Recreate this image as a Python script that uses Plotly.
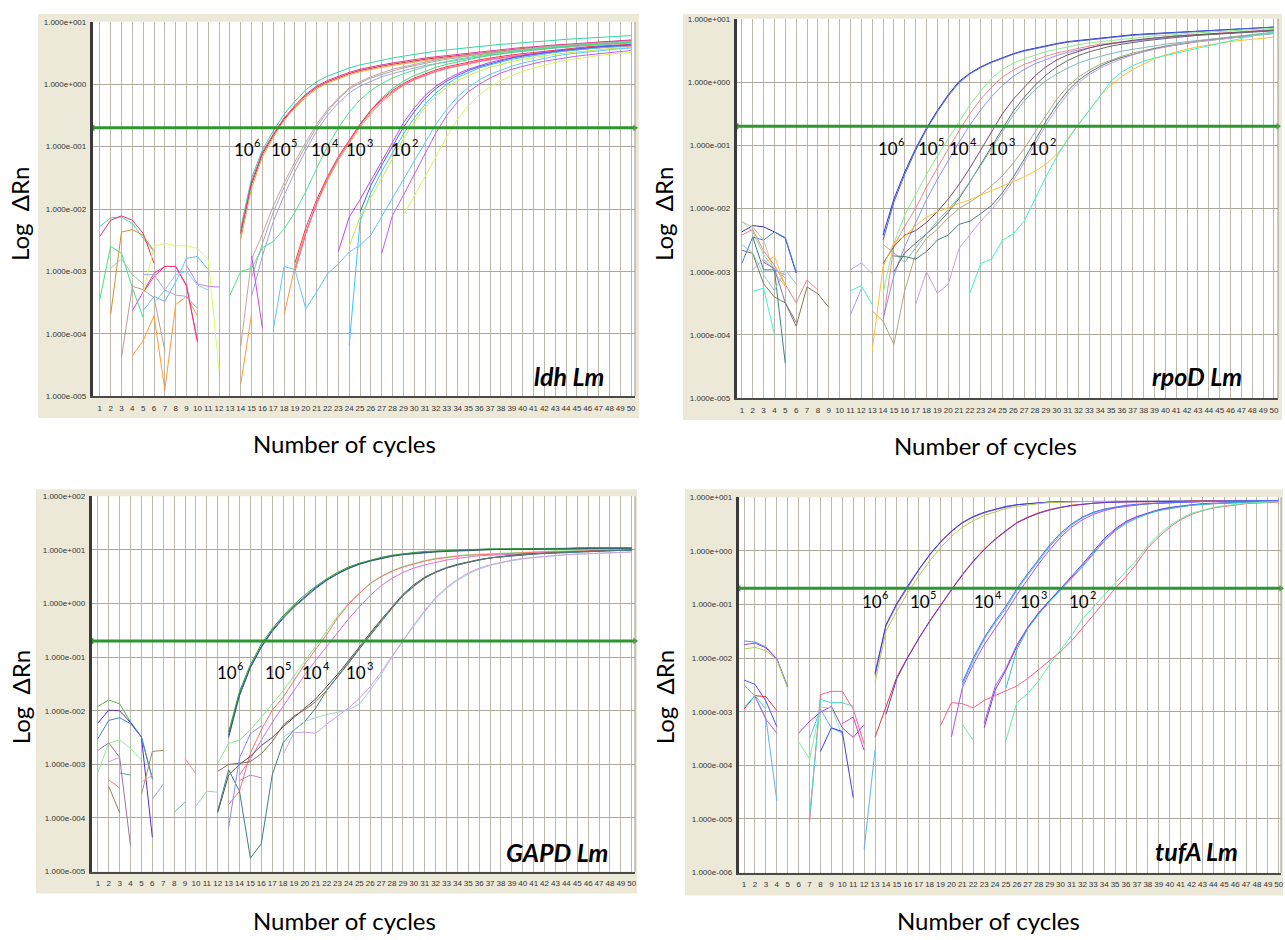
import plotly.graph_objects as go

W, H = 1285, 940
CYCLES = list(range(1, 51))
THRESHOLD_DRN = [0.2, 0.2, 0.2, 0.2]

GENES = ["ldh Lm", "rpoD Lm", "GAPD Lm", "tufA Lm"]
DIL_BASE = "10"
DIL_EXP = ["6", "5", "4", "3", "2"]
Y_TITLE = "Log \u00a0\u0394Rn"
X_TITLE = "Number of cycles"

YTICKS_LDH = ["1.000e-005", "1.000e-004", "1.000e-003", "1.000e-002", "1.000e-001", "1.000e+000", "1.000e+001"]
YTICKS_RPOD = ["1.000e-005", "1.000e-004", "1.000e-003", "1.000e-002", "1.000e-001", "1.000e+000", "1.000e+001"]
YTICKS_GAPD = ["1.000e-005", "1.000e-004", "1.000e-003", "1.000e-002", "1.000e-001", "1.000e+000", "1.000e+001", "1.000e+002"]
YTICKS_TUFA = ["1.000e-006", "1.000e-005", "1.000e-004", "1.000e-003", "1.000e-002", "1.000e-001", "1.000e+000", "1.000e+001"]

# ---------------- ldh Lm : first cycle of each trace and log10(dRn) per cycle ----------------
LDH_START = [14, 14, 14, 14, 15, 15, 14, 13, 19, 19, 18, 19, 23, 24, 24, 25, 27, 17, 29,
             1, 1, 2, 1, 2, 3, 4, 4, 5, 5, 5, 5, 9, 6, 15, 14]
LDH_LOG = [
    [-2.30,-1.50,-1.05,-0.75,-0.48,-0.27,-0.09,0.04,0.13,0.20,0.26,0.31,0.35,0.39,0.42,0.45,0.48,0.50,0.53,0.55,0.57,0.59,0.61,0.62,0.64,0.65,0.67,0.68,0.69,0.71,0.72,0.73,0.74,0.75,0.76,0.77,0.78],
    [-2.40,-1.60,-1.12,-0.82,-0.56,-0.36,-0.18,-0.05,0.04,0.11,0.17,0.22,0.26,0.29,0.32,0.35,0.37,0.40,0.42,0.44,0.46,0.48,0.50,0.52,0.54,0.56,0.57,0.59,0.60,0.62,0.63,0.64,0.66,0.67,0.68,0.69,0.70],
    [-2.48,-1.66,-1.16,-0.85,-0.58,-0.38,-0.21,-0.07,0.02,0.09,0.15,0.20,0.24,0.27,0.30,0.33,0.35,0.38,0.40,0.42,0.44,0.46,0.48,0.50,0.52,0.53,0.55,0.56,0.58,0.59,0.60,0.62,0.63,0.64,0.65,0.66,0.67],
    [-2.36,-1.56,-1.09,-0.80,-0.54,-0.34,-0.16,-0.03,0.06,0.13,0.19,0.24,0.28,0.31,0.34,0.37,0.40,0.42,0.44,0.46,0.48,0.50,0.52,0.54,0.56,0.57,0.59,0.60,0.62,0.63,0.64,0.65,0.67,0.68,0.69,0.70,0.71],
    [-3.10,-2.55,-2.05,-1.65,-1.30,-0.98,-0.68,-0.44,-0.24,-0.08,0.02,0.10,0.16,0.21,0.26,0.30,0.34,0.37,0.40,0.43,0.46,0.48,0.50,0.52,0.54,0.56,0.58,0.59,0.61,0.62,0.63,0.65,0.66,0.67,0.68,0.69],
    [-3.40,-2.75,-2.20,-1.78,-1.40,-1.06,-0.75,-0.50,-0.30,-0.14,-0.03,0.05,0.12,0.17,0.22,0.26,0.30,0.33,0.36,0.39,0.42,0.44,0.47,0.49,0.51,0.53,0.55,0.56,0.58,0.59,0.61,0.62,0.63,0.64,0.65,0.66],
    [-4.20,-2.80,-2.40,-1.95,-1.58,-1.24,-0.93,-0.64,-0.41,-0.22,-0.06,0.04,0.12,0.18,0.24,0.28,0.32,0.36,0.39,0.42,0.45,0.47,0.49,0.51,0.53,0.55,0.57,0.58,0.60,0.61,0.63,0.64,0.65,0.66,0.67,0.68,0.69],
    [-3.38,-3.00,-2.95,-2.62,-2.52,-2.32,-2.05,-1.72,-1.35,-1.00,-0.70,-0.45,-0.25,-0.10,0.01,0.10,0.17,0.23,0.28,0.33,0.37,0.40,0.43,0.46,0.49,0.51,0.53,0.55,0.57,0.58,0.60,0.61,0.62,0.64,0.65,0.66,0.67,0.68],
    [-2.95,-2.38,-1.92,-1.52,-1.19,-0.91,-0.64,-0.41,-0.22,-0.07,0.05,0.14,0.21,0.27,0.32,0.36,0.40,0.43,0.46,0.49,0.51,0.53,0.55,0.57,0.59,0.60,0.62,0.63,0.64,0.65,0.66,0.67],
    [-2.86,-2.30,-1.85,-1.48,-1.16,-0.90,-0.64,-0.42,-0.24,-0.10,0.01,0.10,0.17,0.23,0.28,0.32,0.36,0.39,0.42,0.45,0.47,0.49,0.51,0.53,0.55,0.57,0.58,0.60,0.61,0.62,0.63,0.64],
    [-3.69,-2.92,-2.37,-1.92,-1.54,-1.22,-0.95,-0.69,-0.47,-0.29,-0.14,-0.02,0.07,0.14,0.20,0.25,0.29,0.33,0.36,0.39,0.42,0.44,0.46,0.48,0.50,0.52,0.54,0.55,0.57,0.58,0.59,0.60,0.61],
    [-3.00,-2.40,-1.90,-1.50,-1.18,-0.92,-0.66,-0.44,-0.26,-0.12,-0.01,0.08,0.15,0.21,0.26,0.30,0.34,0.37,0.40,0.43,0.45,0.47,0.49,0.51,0.53,0.55,0.56,0.58,0.59,0.60,0.61,0.62],
    [-2.68,-2.13,-1.85,-1.55,-1.25,-0.93,-0.62,-0.38,-0.18,-0.03,0.08,0.17,0.24,0.30,0.35,0.39,0.43,0.46,0.49,0.51,0.53,0.55,0.57,0.58,0.60,0.61,0.62,0.63],
    [-4.19,-2.20,-1.74,-1.40,-1.10,-0.80,-0.54,-0.32,-0.14,0.00,0.11,0.19,0.26,0.31,0.36,0.40,0.43,0.46,0.49,0.51,0.53,0.55,0.57,0.58,0.60,0.61,0.62],
    [-2.60,-2.13,-1.82,-1.50,-1.18,-0.88,-0.60,-0.37,-0.19,-0.05,0.06,0.14,0.21,0.27,0.32,0.36,0.40,0.43,0.46,0.48,0.50,0.52,0.54,0.55,0.57,0.58,0.59],
    [-2.05,-1.62,-1.30,-0.99,-0.69,-0.44,-0.23,-0.07,0.05,0.14,0.22,0.28,0.33,0.38,0.42,0.45,0.48,0.51,0.53,0.55,0.57,0.58,0.60,0.61,0.62,0.63],
    [-2.71,-2.10,-1.78,-1.45,-1.12,-0.78,-0.50,-0.28,-0.12,0.00,0.10,0.18,0.24,0.29,0.33,0.37,0.40,0.43,0.45,0.47,0.49,0.51,0.52,0.54],
    [-3.93,-2.92,-2.97,-3.60,-3.33,-3.04,-2.88,-2.69,-2.58,-2.42,-2.12,-1.82,-1.52,-1.22,-0.93,-0.64,-0.40,-0.20,-0.05,0.07,0.16,0.23,0.29,0.34,0.38,0.42,0.45,0.48,0.50,0.52,0.54,0.55,0.57,0.58],
    [-2.10,-1.80,-1.48,-1.16,-0.84,-0.56,-0.34,-0.17,-0.04,0.06,0.14,0.21,0.26,0.31,0.35,0.38,0.41,0.44,0.46,0.48,0.50,0.51],
    [-2.28,-2.14,-2.13,-2.23,-2.47,-2.68],
    [-2.44,-2.18,-2.11,-2.18,-2.39,-2.87],
    [-3.69,-2.37,-2.33,-2.42,-2.68],
    [-3.45,-2.60,-2.71,-3.26,-3.74],
    [-2.95,-2.80,-3.05,-3.20],
    [-4.38,-3.24,-3.29,-3.42,-4.27],
    [-4.35,-4.11,-3.71,-4.90,-3.53,-3.40,-3.71],
    [-3.63,-3.34,-3.03,-2.92,-2.92,-3.24,-4.11],
    [-3.34,-3.08,-2.92,-2.92,-3.22,-4.13],
    [-3.63,-3.40,-3.48,-3.17,-2.79,-2.76,-2.97],
    [-3.36,-2.60,-2.55,-2.59,-2.59,-2.63,-2.81,-4.59],
    [-3.05,-3.05,-3.30,-3.38,-3.40,-3.60],
    [-2.90,-3.20,-3.24,-3.25],
    [-3.50,-3.30,-3.05,-3.00,-3.22,-3.30],
    [-2.75,-3.91],
    [-4.80,-3.68],
]
LDH_COLOR = ["#2fd9a4", "#e02a2a", "#f0a23c", "#e0389c", "#a8a8a8", "#a4a0dc", "#c4a4a4", "#4ee28e",
             "#3ce07a", "#ff2e52", "#ff9640", "#ff5aa8", "#c040ff", "#38c4f8", "#c8ee40", "#4a5cf0",
             "#c05cff", "#5cc8ff", "#d4f464",
             "#40e0a0", "#e03080", "#d09030", "#40e080", "#a8c8a0", "#c09898", "#ff9933", "#e040e0",
             "#ff3366", "#60c0ff", "#d0ff60", "#b0a0e0", "#c080ff", "#80d0f8", "#d040f0", "#ff9a40"]

# ---------------- rpoD Lm ----------------
RPOD_START = [14, 14, 14, 14, 14, 14, 15, 14, 13, 15, 17, 13, 22,
              1, 1, 1, 1, 1, 1, 2, 1, 2, 2, 3, 3, 11, 11, 11]
RPOD_LOG = [
    [-2.42,-1.85,-1.42,-1.05,-0.73,-0.45,-0.20,0.01,0.14,0.24,0.32,0.39,0.45,0.50,0.54,0.58,0.61,0.64,0.66,0.68,0.70,0.72,0.73,0.75,0.76,0.77,0.78,0.79,0.80,0.81,0.82,0.83,0.84,0.85,0.86,0.86,0.87],
    [-2.50,-1.90,-1.46,-1.08,-0.75,-0.47,-0.22,-0.01,0.13,0.23,0.31,0.38,0.44,0.49,0.53,0.57,0.60,0.63,0.65,0.67,0.69,0.71,0.72,0.74,0.75,0.76,0.77,0.78,0.79,0.80,0.81,0.82,0.83,0.84,0.85,0.86,0.87],
    [-3.34,-2.55,-2.10,-1.78,-1.46,-1.17,-0.90,-0.62,-0.36,-0.14,0.06,0.20,0.30,0.37,0.43,0.48,0.52,0.56,0.59,0.62,0.64,0.66,0.68,0.70,0.72,0.73,0.74,0.76,0.77,0.78,0.79,0.80,0.81,0.82,0.83,0.84,0.85],
    [-3.80,-2.59,-2.28,-2.00,-1.66,-1.35,-1.06,-0.77,-0.50,-0.27,-0.08,0.08,0.19,0.28,0.35,0.41,0.46,0.50,0.54,0.57,0.60,0.62,0.64,0.66,0.68,0.70,0.71,0.73,0.74,0.75,0.76,0.78,0.79,0.80,0.81,0.82,0.83],
    [-3.75,-3.06,-2.60,-2.22,-1.86,-1.54,-1.24,-0.95,-0.68,-0.44,-0.23,-0.05,0.09,0.20,0.29,0.36,0.42,0.47,0.51,0.55,0.58,0.61,0.63,0.65,0.67,0.69,0.70,0.72,0.73,0.74,0.76,0.77,0.78,0.79,0.80,0.81,0.82],
    [-2.87,-2.60,-2.42,-2.35,-2.22,-2.05,-1.85,-1.62,-1.36,-1.08,-0.78,-0.50,-0.27,-0.08,0.10,0.24,0.35,0.43,0.49,0.54,0.58,0.61,0.64,0.66,0.68,0.70,0.71,0.73,0.74,0.75,0.76,0.77,0.78,0.79,0.80,0.81,0.82],
    [-3.00,-2.70,-2.55,-2.40,-2.25,-2.06,-1.84,-1.58,-1.30,-1.01,-0.72,-0.46,-0.24,-0.05,0.11,0.24,0.34,0.42,0.48,0.53,0.57,0.60,0.63,0.65,0.67,0.69,0.71,0.72,0.74,0.75,0.76,0.77,0.78,0.79,0.80,0.81],
    [-2.57,-2.70,-2.85,-2.62,-2.40,-2.20,-2.02,-1.82,-1.58,-1.32,-1.05,-0.78,-0.52,-0.30,-0.12,0.02,0.13,0.22,0.30,0.36,0.41,0.45,0.49,0.52,0.55,0.58,0.60,0.62,0.64,0.66,0.68,0.70,0.72,0.74,0.76,0.78,0.79],
    [-3.62,-3.78,-4.15,-3.30,-2.72,-2.47,-2.33,-2.15,-2.00,-1.90,-1.78,-1.64,-1.48,-1.28,-1.05,-0.80,-0.53,-0.27,-0.07,0.08,0.19,0.28,0.35,0.41,0.46,0.50,0.54,0.57,0.60,0.63,0.65,0.67,0.69,0.71,0.73,0.75,0.76,0.78],
    [-2.75,-2.76,-2.80,-2.68,-2.50,-2.42,-2.25,-2.20,-2.08,-1.95,-1.75,-1.50,-1.22,-0.92,-0.62,-0.36,-0.14,0.03,0.15,0.25,0.33,0.39,0.44,0.49,0.53,0.56,0.59,0.62,0.64,0.66,0.68,0.70,0.72,0.74,0.76,0.77],
    [-3.52,-3.00,-3.34,-3.20,-2.63,-2.42,-2.20,-2.02,-1.80,-1.56,-1.28,-0.98,-0.68,-0.42,-0.19,-0.01,0.12,0.22,0.30,0.37,0.43,0.48,0.52,0.56,0.59,0.62,0.64,0.66,0.68,0.70,0.72,0.74,0.75,0.77],
    [-4.25,-2.92,-2.54,-2.44,-2.27,-2.14,-2.05,-1.98,-1.92,-1.86,-1.79,-1.72,-1.65,-1.58,-1.50,-1.41,-1.30,-1.14,-0.92,-0.67,-0.44,-0.22,-0.05,0.09,0.20,0.29,0.37,0.43,0.48,0.52,0.56,0.59,0.62,0.64,0.66,0.68,0.70,0.71],
    [-3.34,-2.87,-2.80,-2.50,-2.40,-2.20,-1.85,-1.50,-1.18,-0.90,-0.67,-0.45,-0.22,0.02,0.16,0.26,0.33,0.38,0.42,0.46,0.50,0.54,0.58,0.62,0.66,0.70,0.73,0.76,0.79],
    [-2.37,-2.27,-2.29,-2.37,-2.47,-3.02],
    [-2.87,-2.45,-2.50,-2.37,-2.46,-3.00],
    [-2.21,-2.29,-2.50,-3.02,-3.23],
    [-2.20,-2.37,-2.73,-2.95,-3.10],
    [-2.42,-2.33,-2.67,-2.90,-3.20,-3.49,-3.13,-3.29],
    [-2.66,-2.71,-3.19,-3.40,-3.49,-3.86,-3.24,-3.35,-3.56],
    [-2.45,-2.97,-2.97,-4.45],
    [-2.57,-2.70,-3.05,-3.30,-2.97,-3.19],
    [-3.31,-3.26,-3.99],
    [-2.97,-2.80,-2.97,-3.05],
    [-2.87,-2.75,-3.23],
    [-2.85,-2.95,-3.49,-3.80],
    [-2.97,-2.86,-3.03],
    [-3.30,-3.22,-3.52],
    [-3.68,-3.27],
]
RPOD_COLOR = ["#2838c8", "#5060e0", "#88ee88", "#f08888", "#9090f8", "#7a4a6a", "#686868", "#7cb8b8",
              "#b0a880", "#4c7c7c", "#c8a0d8", "#ffc030", "#40f0c8",
              "#3030c0", "#4080e0", "#c8c090", "#90e090", "#f08080", "#807850", "#408080", "#90d0d0",
              "#40f0d0", "#a0a0ff", "#ffc040", "#9070a0", "#c0a0e0", "#40f0d0", "#a0a0ff"]

# ---------------- GAPD Lm ----------------
GAPD_START = [13, 13, 13, 12, 13, 14, 12, 12, 12, 18, 18, 13, 14,
              1, 1, 1, 1, 1, 2, 2, 3, 2, 5, 5, 6, 8, 9, 10]
GAPD_LOG = [
    [-2.46,-1.69,-1.18,-0.80,-0.50,-0.26,-0.05,0.13,0.30,0.44,0.56,0.66,0.74,0.80,0.85,0.89,0.92,0.94,0.96,0.97,0.98,0.99,1.00,1.00,1.01,1.01,1.01,1.02,1.02,1.02,1.02,1.02,1.03,1.03,1.03,1.03,1.03,1.03],
    [-2.40,-1.64,-1.14,-0.76,-0.47,-0.23,-0.02,0.16,0.32,0.46,0.58,0.68,0.75,0.81,0.86,0.90,0.93,0.95,0.97,0.98,0.99,1.00,1.01,1.01,1.02,1.02,1.02,1.03,1.03,1.03,1.03,1.03,1.04,1.04,1.04,1.04,1.04,1.04],
    [-2.50,-1.72,-1.20,-0.82,-0.52,-0.28,-0.07,0.11,0.28,0.43,0.55,0.65,0.73,0.79,0.84,0.88,0.91,0.93,0.95,0.96,0.97,0.98,0.99,1.00,1.00,1.01,1.01,1.01,1.02,1.02,1.02,1.02,1.02,1.03,1.03,1.03,1.03,1.03],
    [-2.98,-2.61,-2.55,-2.36,-2.12,-1.87,-1.63,-1.35,-1.07,-0.79,-0.51,-0.24,0.00,0.19,0.38,0.51,0.61,0.69,0.75,0.80,0.84,0.87,0.89,0.91,0.92,0.93,0.94,0.95,0.96,0.97,0.97,0.98,0.98,0.99,0.99,1.00,1.00,1.00,1.01],
    [-3.75,-3.50,-2.79,-2.36,-1.99,-1.75,-1.44,-1.13,-0.85,-0.58,-0.27,-0.02,0.19,0.37,0.50,0.60,0.68,0.74,0.79,0.83,0.86,0.88,0.90,0.91,0.92,0.93,0.94,0.95,0.96,0.96,0.97,0.97,0.98,0.98,0.99,0.99,1.00,1.00],
    [-3.20,-2.90,-2.55,-2.22,-1.92,-1.62,-1.33,-1.06,-0.80,-0.54,-0.29,-0.06,0.15,0.33,0.47,0.58,0.66,0.72,0.77,0.81,0.84,0.87,0.89,0.90,0.91,0.92,0.93,0.94,0.95,0.96,0.96,0.97,0.97,0.98,0.98,0.99,0.99],
    [-3.90,-3.20,-3.00,-2.85,-2.65,-2.50,-2.30,-2.12,-1.95,-1.78,-1.56,-1.32,-1.07,-0.80,-0.55,-0.30,-0.06,0.17,0.35,0.49,0.59,0.67,0.73,0.78,0.82,0.85,0.88,0.90,0.92,0.93,0.94,0.95,0.96,0.97,0.98,0.98,0.99,0.99,1.00],
    [-3.13,-3.00,-2.98,-2.95,-2.80,-2.58,-2.27,-2.10,-1.98,-1.83,-1.62,-1.38,-1.12,-0.85,-0.59,-0.33,-0.09,0.14,0.32,0.47,0.58,0.66,0.72,0.77,0.81,0.85,0.87,0.89,0.91,0.93,0.94,0.95,0.96,0.97,0.97,0.98,0.99,0.99,1.00],
    [-3.87,-3.10,-3.50,-4.75,-4.48,-3.20,-2.60,-2.36,-2.20,-1.95,-1.62,-1.36,-1.10,-0.83,-0.57,-0.32,-0.08,0.15,0.33,0.48,0.58,0.66,0.72,0.77,0.81,0.85,0.87,0.89,0.91,0.92,0.93,0.94,0.95,0.96,0.97,0.98,0.98,0.99,0.99],
    [-2.50,-2.35,-2.20,-2.13,-2.07,-2.03,-1.98,-1.88,-1.62,-1.33,-1.00,-0.70,-0.42,-0.15,0.09,0.28,0.43,0.55,0.64,0.71,0.76,0.80,0.83,0.86,0.88,0.90,0.91,0.92,0.93,0.94,0.95,0.95,0.96],
    [-2.82,-2.41,-2.40,-2.42,-2.25,-2.10,-1.95,-1.77,-1.55,-1.28,-0.98,-0.68,-0.40,-0.13,0.11,0.30,0.45,0.57,0.66,0.72,0.77,0.81,0.84,0.86,0.88,0.90,0.91,0.92,0.93,0.94,0.95,0.95,0.96],
    [-4.18,-2.88,-2.43,-2.28],
    [-3.30,-3.20,-3.25],
    [-1.92,-1.80,-1.87,-2.21,-2.49,-3.26],
    [-2.23,-1.99,-2.00,-2.22,-2.49,-4.36],
    [-2.52,-2.18,-2.13,-2.24,-2.49,-3.27],
    [-3.15,-2.61,-2.54,-2.70,-2.92],
    [-2.74,-2.60,-2.87,-4.52],
    [-3.41,-3.90],
    [-3.29,-3.44],
    [-3.16,-3.20],
    [-2.95,-2.87],
    [-3.56,-2.76,-2.74],
    [-3.33,-3.20],
    [-3.65,-3.37],
    [-3.90,-3.70],
    [-2.89,-3.18],
    [-3.78,-3.50,-3.52],
]
GAPD_COLOR = ["#2850d0", "#30a030", "#306060", "#80ee80", "#ff6f6f", "#e070d0", "#505050", "#8a6a50",
              "#3f8080", "#a0d4d4", "#d0a0e4", "#8888ff", "#c080c0",
              "#50b050", "#5030d0", "#4080e0", "#90f090", "#a070a0", "#908060", "#f08080", "#60a0a0",
              "#e0a0e0", "#a09060", "#ffa0a0", "#a0a0ff", "#80b0b0", "#f09090", "#a0d0d0"]

# ---------------- tufA Lm ----------------
TUFA_START = [13, 13, 13, 13, 14, 21, 20, 21, 23, 23, 25, 19, 25,
              1, 1, 1, 1, 1, 1, 2, 1, 7, 7, 6, 10, 6, 7, 8, 12, 21]
TUFA_LOG = [
    [-2.32,-1.40,-1.00,-0.67,-0.36,-0.08,0.16,0.36,0.52,0.63,0.71,0.77,0.82,0.86,0.88,0.90,0.91,0.91,0.92,0.92,0.92,0.92,0.92,0.93,0.93,0.93,0.93,0.93,0.93,0.93,0.93,0.93,0.93,0.93,0.93,0.93,0.93,0.93],
    [-2.28,-1.38,-0.98,-0.65,-0.35,-0.07,0.17,0.37,0.53,0.64,0.72,0.78,0.83,0.86,0.88,0.90,0.91,0.92,0.92,0.92,0.92,0.92,0.93,0.93,0.93,0.93,0.93,0.93,0.93,0.93,0.93,0.93,0.93,0.94,0.94,0.94,0.94,0.94],
    [-2.45,-1.50,-1.12,-0.78,-0.47,-0.19,0.06,0.27,0.44,0.56,0.66,0.73,0.79,0.83,0.86,0.88,0.90,0.91,0.91,0.92,0.92,0.92,0.92,0.92,0.92,0.93,0.93,0.93,0.93,0.93,0.93,0.93,0.93,0.93,0.93,0.93,0.93,0.93],
    [-3.47,-2.90,-2.35,-1.98,-1.63,-1.31,-1.01,-0.72,-0.44,-0.19,0.03,0.22,0.38,0.53,0.63,0.71,0.77,0.81,0.85,0.87,0.89,0.90,0.91,0.91,0.92,0.92,0.92,0.92,0.92,0.93,0.93,0.93,0.93,0.93,0.93,0.93,0.93,0.93],
    [-3.05,-2.38,-1.99,-1.64,-1.32,-1.02,-0.73,-0.45,-0.20,0.02,0.21,0.37,0.52,0.62,0.70,0.76,0.81,0.84,0.87,0.89,0.90,0.91,0.91,0.92,0.92,0.92,0.92,0.92,0.93,0.93,0.93,0.93,0.93,0.93,0.93,0.93,0.93],
    [-2.50,-2.04,-1.65,-1.34,-1.07,-0.73,-0.45,-0.18,0.08,0.30,0.48,0.62,0.71,0.77,0.81,0.84,0.86,0.88,0.89,0.90,0.91,0.91,0.92,0.92,0.92,0.93,0.93,0.93,0.93,0.93],
    [-3.47,-2.55,-2.12,-1.75,-1.45,-1.15,-0.82,-0.52,-0.24,0.02,0.25,0.44,0.58,0.68,0.75,0.80,0.83,0.86,0.88,0.89,0.90,0.91,0.91,0.92,0.92,0.92,0.93,0.93,0.93,0.93,0.93],
    [-2.45,-2.00,-1.62,-1.31,-1.03,-0.70,-0.42,-0.15,0.11,0.33,0.50,0.63,0.72,0.78,0.82,0.85,0.87,0.88,0.89,0.90,0.91,0.92,0.92,0.92,0.93,0.93,0.93,0.93,0.94,0.94],
    [-3.22,-2.53,-2.19,-1.75,-1.42,-1.15,-0.92,-0.72,-0.50,-0.28,-0.04,0.20,0.39,0.53,0.63,0.70,0.76,0.80,0.83,0.85,0.87,0.88,0.89,0.90,0.91,0.91,0.92,0.92],
    [-3.30,-2.60,-2.22,-1.78,-1.44,-1.16,-0.93,-0.71,-0.48,-0.25,-0.01,0.23,0.41,0.55,0.64,0.71,0.77,0.81,0.84,0.86,0.88,0.89,0.90,0.91,0.91,0.92,0.92,0.92],
    [-2.56,-1.84,-1.45,-1.18,-0.95,-0.74,-0.52,-0.30,-0.06,0.18,0.37,0.51,0.61,0.69,0.75,0.79,0.82,0.85,0.87,0.88,0.89,0.90,0.91,0.91,0.92,0.92],
    [-3.26,-2.83,-2.85,-2.93,-2.79,-2.70,-2.62,-2.52,-2.38,-2.21,-2.05,-1.88,-1.68,-1.45,-1.20,-0.95,-0.70,-0.48,-0.23,0.06,0.26,0.44,0.58,0.68,0.75,0.80,0.83,0.86,0.88,0.89,0.90,0.91],
    [-3.53,-2.83,-2.66,-2.42,-2.12,-1.85,-1.58,-1.27,-1.05,-0.82,-0.60,-0.40,-0.16,0.10,0.30,0.47,0.60,0.70,0.76,0.81,0.84,0.87,0.89,0.90,0.91,0.92],
    [-1.68,-1.70,-1.79,-2.01,-2.53],
    [-1.75,-1.72,-1.81,-2.02,-2.55],
    [-1.83,-1.80,-1.86,-2.03,-2.56],
    [-2.41,-2.49,-2.80,-3.28],
    [-2.50,-2.71,-3.12,-4.66],
    [-2.95,-2.70,-2.72,-2.98],
    [-2.72,-3.14,-3.40],
    [-2.92,-2.70,-2.95],
    [-5.05,-2.68,-2.62,-2.62,-2.95,-3.60],
    [-4.95,-2.77,-2.83,-2.83,-2.90],
    [-3.40,-3.18,-3.01,-2.90,-3.30,-3.48,-3.24],
    [-3.22,-3.10,-3.72],
    [-3.56,-3.88,-2.92,-2.92,-3.45],
    [-3.50,-2.95,-3.30,-3.40],
    [-3.74,-3.30,-3.37,-4.60],
    [-5.57,-3.71],
    [-3.24,-3.53],
]
TUFA_COLOR = ["#a040f0", "#3c3cdc", "#a8d048", "#f03030", "#5a3ae6", "#40b0ff", "#b050f0", "#5070ff",
              "#c050f0", "#6a48e8", "#30c0c8", "#ff6088", "#60f0a0",
              "#40a0ff", "#a040f0", "#a8d048", "#5050ff", "#60b0ff", "#f03030", "#c060e0", "#40d0d0",
              "#ff6090", "#40e0c0", "#b040e0", "#e040c0", "#80f0a0", "#60b0ff", "#4040e0", "#60b0ff", "#60f0a0"]

# ---------------- layout (pixel geometry) ----------------
PANEL_LAYOUT = [
    dict(plot=(93, 18, 636, 396), frame=(38, 10, 640, 418), xr=(0.36, 50.36), yr=(-5, 1),
         ytitle=(20, 212), xtitle=(345, 444), gene=(570, 376),
         dil=[(251, 147), (288, 147), (329, 147), (364, 147), (409, 147)]),
    dict(plot=(738, 15, 1280, 398), frame=(684, 10, 1284, 420), xr=(0.54, 50.37), yr=(-5, 1),
         ytitle=(665, 212), xtitle=(987, 446), gene=(1199, 376),
         dil=[(896, 146), (936, 146), (968, 146), (1007, 146), (1048, 146)]),
    dict(plot=(92, 497, 636, 876), frame=(36, 490, 638, 898), xr=(0.45, 50.3), yr=(-5, 2),
         ytitle=(20, 700), xtitle=(345, 925), gene=(558, 856),
         dil=[(234, 675), (282, 675), (320, 675), (364, 675)]),
    dict(plot=(740, 498, 1283, 877), frame=(686, 490, 1285, 900), xr=(0.52, 50.2), yr=(-6, 1),
         ytitle=(665, 700), xtitle=(990, 925), gene=(1198, 855),
         dil=[(880, 603), (928, 603), (993, 603), (1039, 603), (1088, 603)]),
]

DATA = [
    (LDH_START, LDH_LOG, LDH_COLOR, YTICKS_LDH),
    (RPOD_START, RPOD_LOG, RPOD_COLOR, YTICKS_RPOD),
    (GAPD_START, GAPD_LOG, GAPD_COLOR, YTICKS_GAPD),
    (TUFA_START, TUFA_LOG, TUFA_COLOR, YTICKS_TUFA),
]

TICK_FONT = "Liberation Sans, Arial, sans-serif"


def px(x):
    return x / W


def py(y):
    return 1 - y / H


fig = go.Figure()
shapes = []
annotations = []
layout_axes = {}

for i, (pl, (starts, logs, colors, yticks)) in enumerate(zip(PANEL_LAYOUT, DATA)):
    n = "" if i == 0 else str(i + 1)
    xa, ya = "x" + n, "y" + n
    x0, y0, x1, y1 = pl["plot"]
    fx0, fy0, fx1, fy1 = pl["frame"]
    shapes.append(dict(type="rect", xref="paper", yref="paper", x0=px(fx0), x1=px(fx1),
                       y0=py(fy1), y1=py(fy0), fillcolor="#ECE9D8", line=dict(width=0), layer="below"))
    shapes.append(dict(type="rect", xref="paper", yref="paper", x0=px(x0), x1=px(x1),
                       y0=py(y1), y1=py(y0), fillcolor="#FFFFFF", line=dict(width=0), layer="below"))
    shapes.append(dict(type="line", xref="paper", yref="paper", x0=px(x1), x1=px(x1),
                       y0=py(y1), y1=py(y0), line=dict(color="#9a968c", width=1)))

    layout_axes["xaxis" + n] = dict(
        domain=[px(x0), px(x1)], anchor=ya, range=list(pl["xr"]),
        tickmode="array", tickvals=CYCLES, ticktext=[str(c) for c in CYCLES], tickangle=0,
        tickfont=dict(family=TICK_FONT, size=8, color="#333333"),
        showgrid=True, gridcolor="#bcb8ac", gridwidth=1, zeroline=False,
        showline=True, linecolor="#4a4a4a", linewidth=2,
        ticks="outside", ticklen=3, tickcolor="rgba(0,0,0,0)",
    )
    layout_axes["yaxis" + n] = dict(
        domain=[py(y1), py(y0)], anchor=xa, type="log", range=list(pl["yr"]),
        tickmode="array", tickvals=[float(t) for t in yticks], ticktext=yticks,
        tickfont=dict(family=TICK_FONT, size=8, color="#333333"),
        showgrid=True, gridcolor="#aca89c", gridwidth=1, zeroline=False,
        showline=True, linecolor="#3a3a3a", linewidth=3,
        ticks="outside", ticklen=2, tickcolor="rgba(0,0,0,0)",
    )

    for s, vals, col in zip(starts, logs, colors):
        xs = CYCLES[s - 1:s - 1 + len(vals)]
        ys = [10 ** v for v in vals[:len(xs)]]
        fig.add_trace(go.Scatter(x=xs, y=ys, mode="lines", line=dict(color=col, width=1),
                                 xaxis=xa, yaxis=ya, showlegend=False, hoverinfo="skip"))

    thr = THRESHOLD_DRN[i]
    fig.add_trace(go.Scatter(x=list(pl["xr"]), y=[thr, thr], mode="lines+markers",
                             line=dict(color="#2e962e", width=3),
                             marker=dict(symbol=["triangle-left", "triangle-right"], size=6, color="#2e962e"),
                             cliponaxis=False, xaxis=xa, yaxis=ya, showlegend=False, hoverinfo="skip"))

    tx, ty = pl["ytitle"]
    annotations.append(dict(text=Y_TITLE, x=px(tx), y=py(ty), xref="paper", yref="paper", textangle=-90,
                            showarrow=False, font=dict(family="Lato", size=24, color="#000000"),
                            xanchor="center", yanchor="middle"))
    tx, ty = pl["xtitle"]
    annotations.append(dict(text=X_TITLE, x=px(tx), y=py(ty), xref="paper", yref="paper",
                            showarrow=False, font=dict(family="Lato", size=24, color="#000000"),
                            xanchor="center", yanchor="middle"))
    tx, ty = pl["gene"]
    annotations.append(dict(text=GENES[i], x=px(tx), y=py(ty), xref="paper", yref="paper",
                            showarrow=False,
                            font=dict(family="Lato", size=25, color="#000000", weight="bold", style="italic"),
                            xanchor="center", yanchor="middle"))
    for ex, (dx, dy) in zip(DIL_EXP, pl["dil"]):
        annotations.append(dict(text=DIL_BASE, x=px(dx + 3), y=py(dy), xref="paper", yref="paper",
                                showarrow=False, borderpad=0, borderwidth=0,
                                font=dict(family="Lato", size=17, color="#000000"),
                                xanchor="right", yanchor="middle"))
        annotations.append(dict(text=ex, x=px(dx + 3.5), y=py(dy - 7), xref="paper", yref="paper",
                                showarrow=False, borderpad=0, borderwidth=0,
                                font=dict(family="Lato", size=11, color="#000000"),
                                xanchor="left", yanchor="middle"))

fig.update_layout(
    width=W, height=H, margin=dict(l=0, r=0, t=0, b=0),
    paper_bgcolor="#FFFFFF", plot_bgcolor="rgba(0,0,0,0)",
    showlegend=False, shapes=shapes, annotations=annotations, **layout_axes,
)

fig.write_html("out.html")
